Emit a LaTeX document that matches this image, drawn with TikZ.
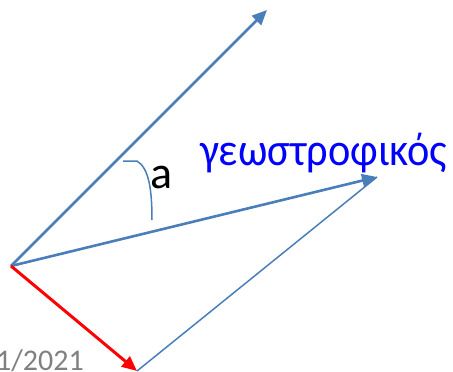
\documentclass[tikz,border=0pt]{standalone}
\usepackage{fontspec}
\setmainfont{Carlito}
\usetikzlibrary{arrows.meta}
\definecolor{steel}{RGB}{74,126,187}
\definecolor{txtgray}{RGB}{128,128,128}
\tikzset{
  vec/.style={line width=2.6pt, -{Triangle[length=15pt,width=13pt]}},
  thin/.style={line width=1.5pt, steel},
}
\begin{document}
\begin{tikzpicture}[x=1pt,y=-1pt]
\useasboundingbox (0,0) rectangle (453,372);
\coordinate (O) at (11,266);
\coordinate (T) at (267,10);
\coordinate (G) at (377,177);
\coordinate (R) at (137,371);
\coordinate (A1) at (123,161);
\coordinate (A2) at (137,161);
\coordinate (A3) at (152,220);
\draw[vec, steel] (O) -- (T);
\draw[vec, steel] (O) -- (G);
\draw[vec, red, line width=3pt] (O) -- (R);
\draw[thin] (R) -- (G);
\draw[thin] (A1) -- (A2) .. controls (149,168) and (152,190) .. (A3);
\node[anchor=base west, inner sep=0pt, text=blue] (geo) at (200,165) {\fontsize{46}{50}\selectfont\scalebox{0.92}[1]{γεωστροφικός}};
\node[anchor=base west, inner sep=0pt, font=\fontsize{46}{50}\selectfont] (alpha) at (150,188) {a};
\node[anchor=base east, inner sep=0pt, font=\fontsize{30}{34}\selectfont, text=txtgray] (date) at (84,370) {1/2021};
\end{tikzpicture}
\end{document}
